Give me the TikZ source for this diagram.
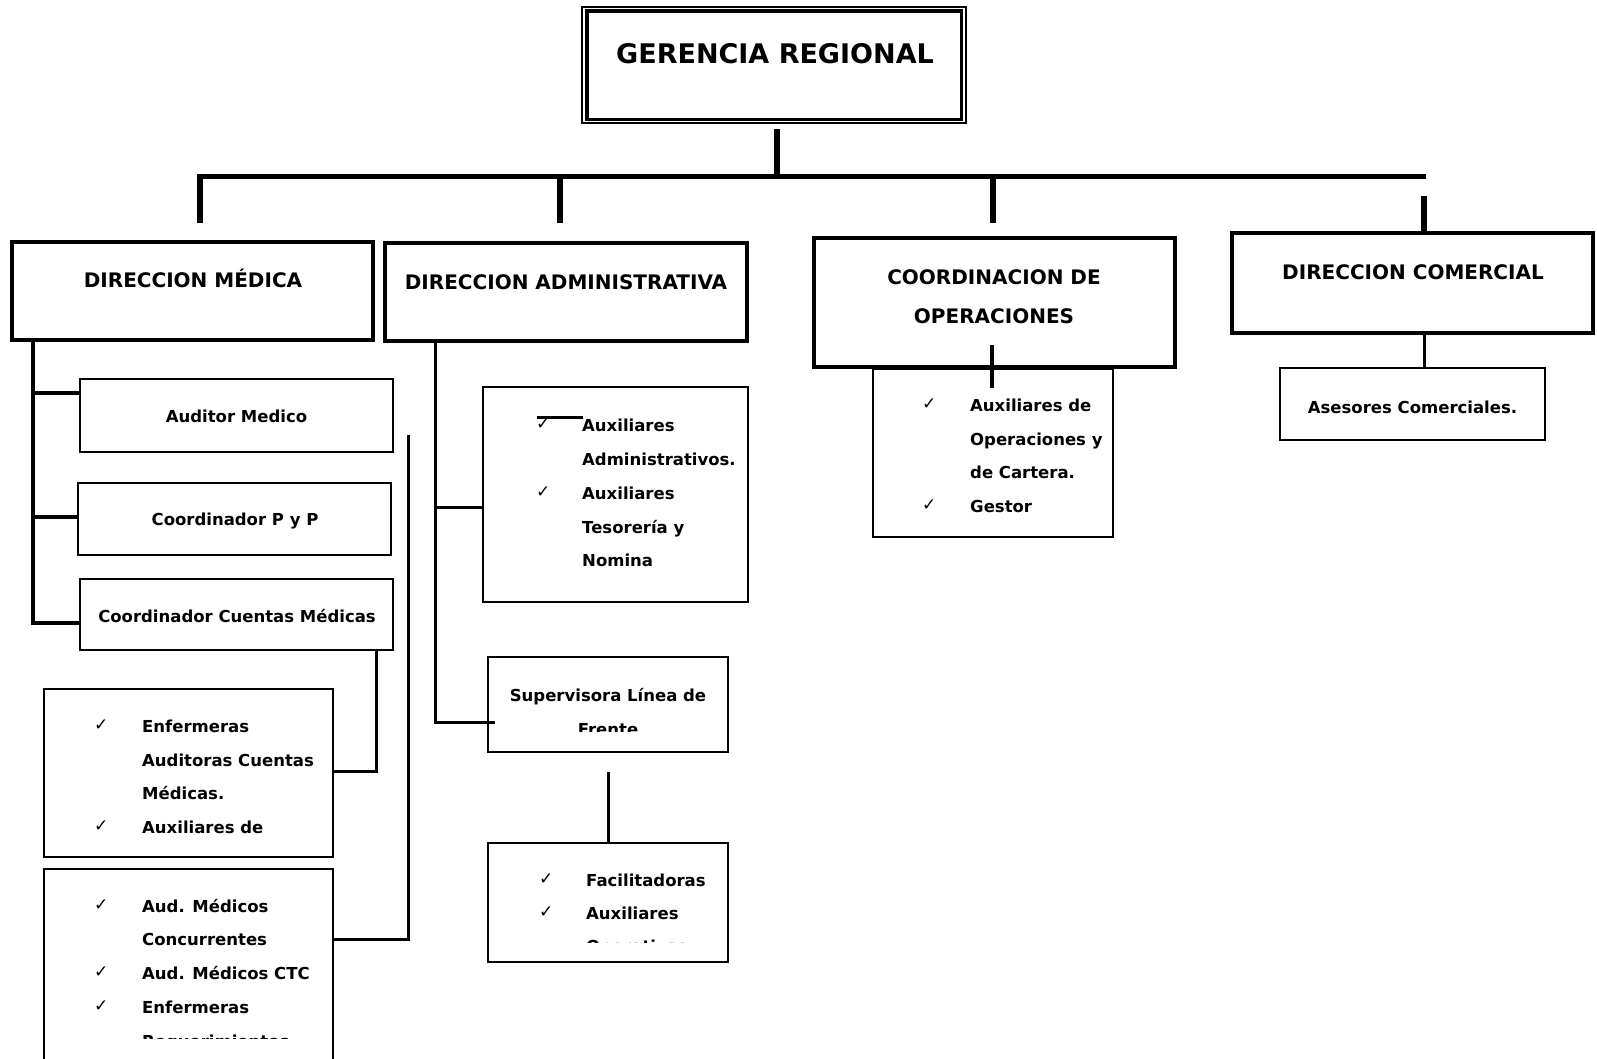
\documentclass[tikz,border=0pt]{standalone}
\usepackage{fontspec}
\setmainfont{DejaVu Sans}
\usepackage{tikz}
\usetikzlibrary{calc}

\begin{document}
\begin{tikzpicture}[
  x=1pt, y=-1pt,
  tronco/.style={line width=5.5pt},
  rama/.style={line width=3.5pt},
  enlace/.style={line width=3pt},
  jefe/.style={draw,line width=4pt,inner sep=0pt},
  cargo/.style={draw,line width=2pt,inner sep=0pt},
  titulo/.style={font=\fontsize{20}{24}\selectfont\bfseries,inner sep=0pt,anchor=base},
  linea/.style={font=\fontsize{16.5}{20}\selectfont\bfseries,inner sep=0pt,anchor=base west},
  puesto/.style={font=\fontsize{16.5}{20}\selectfont\bfseries,inner sep=0pt,anchor=base},
  chk/.style={font=\fontsize{17}{18}\selectfont,inner sep=0pt,anchor=base west}
]
\useasboundingbox (0,0) rectangle (1597,1058);
\clip (0,0) rectangle (1597,1058);

% Gerencia
\node[draw,line width=2.5pt,inner sep=0pt,minimum width=384pt,minimum height=116pt] (gr) at (774,65) {};
\draw[line width=3.5pt] ($(gr.north west)+(6,5)$) rectangle ($(gr.south east)+(-6,-5)$);
\node[titulo,font=\fontsize{27}{30}\selectfont\bfseries] (t-gr) at (775,63) {GERENCIA REGIONAL};

% Direcciones
\node[jefe,minimum width=361pt,minimum height=98pt] (dm) at (192.5,291) {};
\node[jefe,minimum width=362pt,minimum height=98pt] (da) at (566,292) {};
\node[jefe,minimum width=361pt,minimum height=129pt] (co) at (994.5,302.5) {};
\node[jefe,minimum width=361pt,minimum height=100pt] (dc) at (1412.5,283) {};
\node[titulo] (t-dm) at (193,287) {DIRECCION MÉDICA};
\node[titulo] (t-da) at (566,289) {DIRECCION ADMINISTRATIVA};
\node[titulo] (t-co1) at (994,284) {COORDINACION DE};
\node[titulo] (t-co2) at (994,323) {OPERACIONES};
\node[titulo] (t-dc) at (1413,279) {DIRECCION COMERCIAL};

% Barra principal
\coordinate (g0) at (777,129);
\coordinate (b0) at (200,176.5);
\coordinate (b1) at (1426,176.5);
\coordinate (d1) at (200,223);
\coordinate (d2) at (560,223);
\coordinate (d3) at (993,223);
\coordinate (d4) at (1424,196);
\draw[tronco] (g0) -- (g0 |- b0);
\draw[tronco] (d1) -- (b0) -- (b1);
\draw[tronco] (d2 |- b0) -- (d2);
\draw[tronco] (d3 |- b0) -- (d3);
\draw[tronco] (d4) -- (d4 |- dc.north);

% Direccion medica
\node[cargo,minimum width=313pt,minimum height=73pt] (am) at (236.5,415.5) {};
\node[cargo,minimum width=313pt,minimum height=72pt] (cpp) at (234.5,519) {};
\node[cargo,minimum width=313pt,minimum height=71pt] (ccm) at (236.5,614.5) {};
\node[cargo,minimum width=289pt,minimum height=168pt] (enf) at (188.5,773) {};
\node[cargo,minimum width=289pt,minimum height=211pt] (aud) at (188.5,974.5) {};
\node[puesto] (t-am) at (236.5,422) {Auditor Medico};
\node[puesto] (t-cpp) at (235,525) {Coordinador P y P};
\node[puesto] (t-ccm) at (237,622) {Coordinador Cuentas Médicas};

\coordinate (m0) at (33,340);
\coordinate (m1) at (33,393);
\coordinate (m2) at (33,517);
\coordinate (m3) at (33,623);
\draw[rama] (m0) -- (m3) -- (m3 -| ccm.west);
\draw[rama] (m1) -- (m1 -| am.west);
\draw[rama] (m2) -- (m2 -| cpp.west);
\coordinate (c1) at (376,771);
\draw[enlace] (c1 |- ccm.south) -- (c1) -- (c1 -| enf.east);
\coordinate (r0) at (408,435);
\coordinate (r1) at (408,939);
\draw[enlace] (r0) -- (r1) -- (r1 -| aud.east);

\node[chk] (k-e1) at (94,730) {✓};
\node[linea] (e1) at (142,732) {Enfermeras};
\node[linea] (e2) at (142,766) {Auditoras Cuentas};
\node[linea] (e3) at (142,799) {Médicas.};
\node[chk] (k-e4) at (94,831) {✓};
\node[linea] (e4) at (142,833) {Auxiliares de};

\node[chk] (k-u1) at (94,910) {✓};
\node[linea] (u1) at (142,912) {Aud. Médicos};
\node[linea] (u2) at (142,945) {Concurrentes};
\node[chk] (k-u3) at (94,977) {✓};
\node[linea] (u3) at (142,979) {Aud. Médicos CTC};
\node[chk] (k-u4) at (94,1011) {✓};
\node[linea] (u4) at (142,1013) {Enfermeras};
\begin{scope}
  \clip (44,869) rectangle (333,1038);
  \node[linea] (u5) at (142,1047) {Requerimientos};
\end{scope}

% Direccion administrativa
\node[cargo,minimum width=265pt,minimum height=215pt] (aux) at (615.5,494.5) {};
\node[cargo,minimum width=240pt,minimum height=95pt] (sup) at (608,704.5) {};
\node[cargo,minimum width=240pt,minimum height=119pt] (fac) at (608,902.5) {};

\coordinate (a1) at (435,507);
\coordinate (a2) at (435,722);
\coordinate (a3) at (495,722);
\draw[enlace] (a1 |- da.south) -- (a2) -- (a3);
\draw[enlace] (a1) -- (a1 -| aux.west);
\coordinate (s0) at (537,417);
\coordinate (s1) at (583,417);
\draw[line width=3pt] (s0) -- (s1);
\coordinate (f0) at (608,772);
\draw[enlace] (f0) -- (f0 |- fac.north);

\node[chk] (k-x1) at (536,429) {✓};
\node[linea] (x1) at (582,431) {Auxiliares};
\node[linea] (x2) at (582,465) {Administrativos.};
\node[chk] (k-x3) at (536,497) {✓};
\node[linea] (x3) at (582,499) {Auxiliares};
\node[linea] (x4) at (582,533) {Tesorería y};
\node[linea] (x5) at (582,566) {Nomina};

\node[puesto] (t-sup) at (608,701) {Supervisora Línea de};
\begin{scope}
  \clip (488,657) rectangle (728,731);
  \node[puesto] (t-sup2) at (608,735) {Frente};
\end{scope}

\node[chk] (k-f1) at (539,884) {✓};
\node[linea] (f1) at (586,886) {Facilitadoras};
\node[chk] (k-f2) at (539,917) {✓};
\node[linea] (f2) at (586,919) {Auxiliares};
\begin{scope}
  \clip (488,843) rectangle (728,942);
  \node[linea] (f3) at (586,952) {Operativas};
\end{scope}

% Coordinacion de operaciones
\node[cargo,minimum width=240pt,minimum height=168pt] (ope) at (993,453) {};
\coordinate (o0) at (992,345);
\coordinate (o1) at (992,388);
\draw[rama] (o0) -- (o1);
\node[chk] (k-o1) at (922,409) {✓};
\node[linea] (o-1) at (970,411) {Auxiliares de};
\node[linea] (o-2) at (970,445) {Operaciones y};
\node[linea] (o-3) at (970,478) {de Cartera.};
\node[chk] (k-o4) at (922,510) {✓};
\node[linea] (o-4) at (970,512) {Gestor};

% Direccion comercial
\node[cargo,minimum width=265pt,minimum height=72pt] (ase) at (1412.5,404) {};
\coordinate (k0) at (1424,333);
\draw[enlace] (k0) -- (k0 |- ase.north);
\node[puesto] (t-ase) at (1412.5,413) {Asesores Comerciales.};
\end{tikzpicture}
\end{document}
